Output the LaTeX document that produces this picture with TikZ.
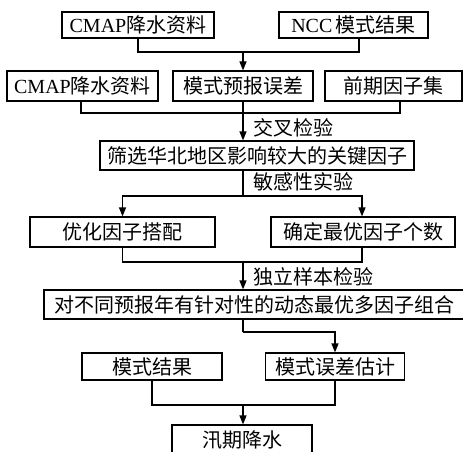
\documentclass[tikz,border=0pt]{standalone}
\usepackage{fontspec}
\setmainfont{Liberation Serif}
\newfontfamily\cjk{Noto Sans CJK SC}
\newcommand{\zh}[1]{{\cjk #1}}
\usetikzlibrary{arrows.meta}
\begin{document}
\begin{tikzpicture}[x=1pt,y=-1pt,
  box/.style={draw, line width=1.2pt, inner sep=0pt, align=center,
    font=\fontsize{20}{22}\selectfont},
  conn/.style={line width=1.2pt},
  arr/.style={conn, -{Triangle[length=9pt,width=7pt]}},
  lbl/.style={anchor=west, inner sep=0pt, font=\fontsize{20}{22}\selectfont}]
\useasboundingbox (0,0) rectangle (463,452);
% row 1
\node[box, minimum width=152pt, minimum height=26pt] (a1) at (138,25) {CMAP\zh{降水资料}};
\node[box, minimum width=149pt, minimum height=26pt] (a2) at (353.5,25) {NCC\,\zh{模式结果}};
% row 2
\node[box, minimum width=151pt, minimum height=30pt] (b1) at (82.5,86) {CMAP\zh{降水资料}};
\node[box, minimum width=140pt, minimum height=30pt] (b2) at (243,86) {\zh{模式预报误差}};
\node[box, minimum width=137pt, minimum height=30pt] (b3) at (393.5,86) {\zh{前期因子集}};
% row 3
\node[box, minimum width=314pt, minimum height=29pt] (c) at (257,155.5) {\zh{筛选华北地区影响较大的关键因子}};
% row 4
\node[box, minimum width=185pt, minimum height=30pt] (d1) at (122.5,232) {\zh{优化因子搭配}};
\node[box, minimum width=184pt, minimum height=30pt] (d2) at (363,232) {\zh{确定最优因子个数}};
% row 5
\node[box, minimum width=420pt, minimum height=29pt] (e) at (254,304.5) {\zh{对不同预报年有针对性的动态最优多因子组合}};
% row 6
\node[box, minimum width=140pt, minimum height=27pt] (f1) at (152,366.5) {\zh{模式结果}};
\node[box, minimum width=139pt, minimum height=27pt] (f2) at (335,366.5) {\zh{模式误差估计}};
% row 7
\node[box, minimum width=140pt, minimum height=30pt] (g) at (242,440) {\zh{汛期降水}};
% labels
\node[lbl] (l1) at (253,128) {\zh{交叉检验}};
\node[lbl] (l2) at (253,182) {\zh{敏感性实验}};
\node[lbl] (l3) at (253,277) {\zh{独立样本检验}};
% connectors
\coordinate (j1) at (243,52);
\draw[conn] (a1.south) |- (j1) -| ([xshift=5.5pt]a2.south);
\draw[arr] (j1) -- (b2.north);
\coordinate (j2) at (243,113);
\draw[conn] ([xshift=-1.5pt]b1.south) |- (j2) -| ([xshift=6.5pt]b3.south);
\draw[arr] (b2.south) -- (c.north -| b2.south);
\coordinate (j3) at (243,196);
\draw[conn] (c.south -| j3) -- (j3);
\draw[arr] (j3) -| (d1.north);
\draw[arr] (j3) -| ([xshift=-1pt]d2.north);
\coordinate (j4) at (243,262);
\draw[conn] (d1.south) |- (j4) -| ([xshift=-1pt]d2.south);
\draw[arr] (j4) -- (e.north -| j4);
\coordinate (j5) at (243,332);
\draw[conn] (e.south -| j5) -- (j5);
\draw[arr] (j5) -| (f2.north);
\coordinate (j6) at (243,405);
\draw[conn] (f1.south) |- (j6) -| (f2.south);
\draw[arr] (j6) -- (g.north -| j6);
\end{tikzpicture}
\end{document}
